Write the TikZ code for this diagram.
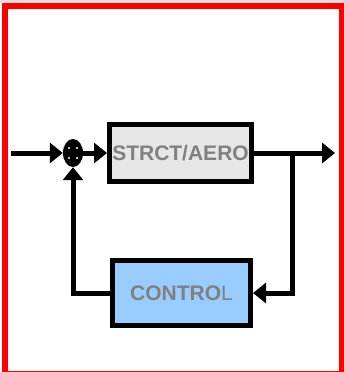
\documentclass[tikz,border=0pt]{standalone}
\usepackage{fontspec}
\setmainfont{Liberation Sans}
\usetikzlibrary{
  arrows.meta,
  shapes.geometric,
}
\definecolor{blockgray}{HTML}{E6E6E6}
\definecolor{blockblue}{HTML}{99CCFF}
\definecolor{labelgray}{HTML}{808080}

\begin{document}
\begin{tikzpicture}[
  x=1pt, y=-1pt,
  block/.style={draw=black, line width=5pt, inner sep=0pt, text=labelgray,
    font=\fontsize{21}{24}\selectfont\bfseries},
  sumnode/.style={ellipse, fill=black, minimum width=20pt, minimum height=28pt, inner sep=0pt},
  sig/.style={line width=5pt, -{Triangle[length=13pt,width=20pt]}},
]
\useasboundingbox (0,0) rectangle (344,372);
\fill[gray!25] (0,0) rectangle (344,3);
\draw[red, line width=6pt] (5,6) rectangle (342,374);

\node[sumnode] (sum) at (73,153) {};
\foreach \dx/\dy in {-4/-5, 4/-5, -4/5, 4/5}
  \fill[white] ([shift={(\dx,\dy)}]sum.center) circle (1.2pt);
\node[block, fill=blockgray, minimum width=142pt, minimum height=57pt] (strct) at (180.5,153) {STRCT/AERO};
\node[block, fill=blockblue, minimum width=138pt, minimum height=65pt] (ctrl) at (181.5,293) {CONTRO\mdseries L};

\coordinate (in) at (11,153);
\coordinate (out) at (335,153);
\coordinate (branch) at (292,153);

\draw[sig] (in) -- (sum.west);
\draw[sig] (sum.east) -- (strct.west);
\draw[sig] (strct.east) -- (out);
\draw[sig] (branch) |- (ctrl.east);
\draw[sig] (ctrl.west) -| (sum.south);
\end{tikzpicture}
\end{document}
